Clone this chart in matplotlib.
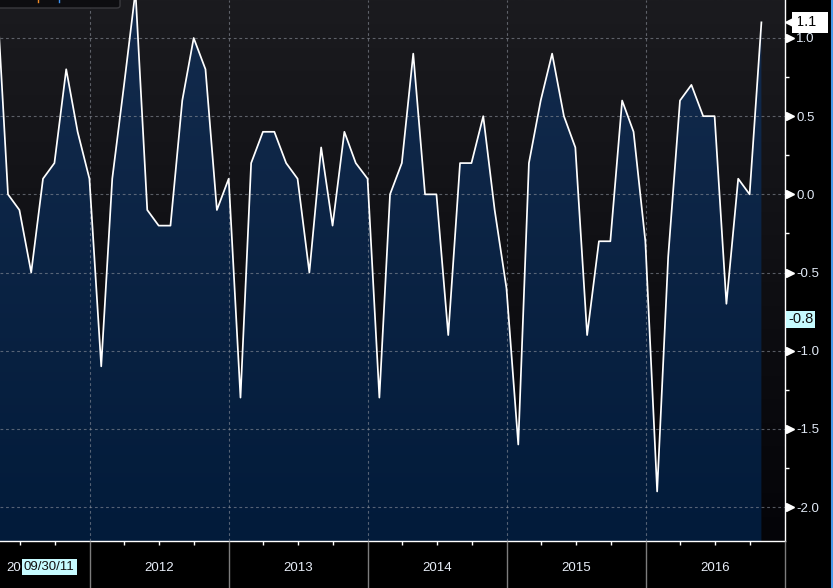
import matplotlib
matplotlib.use('Agg')
import matplotlib.pyplot as plt
import matplotlib.dates as mdates
import matplotlib.transforms as mtransforms
from matplotlib.patches import FancyBboxPatch
from matplotlib.lines import Line2D
import numpy as np
import pandas as pd

plt.rcParams['font.family'] = ['Liberation Sans', 'DejaVu Sans']

# monthly values, Apr 2011 .. Oct 2016 (month end)
dates = pd.date_range('2011-04-30', '2016-10-31', freq='ME')
values = [1.35, 0.0, -0.1, -0.5, 0.1, 0.2, 0.8, 0.4, 0.1,
          -1.1, 0.1, 0.7, 1.3, -0.1, -0.2, -0.2, 0.6, 1.0, 0.8, -0.1, 0.1,
          -1.3, 0.2, 0.4, 0.4, 0.2, 0.1, -0.5, 0.3, -0.2, 0.4, 0.2, 0.1,
          -1.3, 0.0, 0.2, 0.9, 0.0, 0.0, -0.9, 0.2, 0.2, 0.5, -0.1, -0.6,
          -1.6, 0.2, 0.6, 0.9, 0.5, 0.3, -0.9, -0.3, -0.3, 0.6, 0.4, -0.3,
          -1.9, -0.4, 0.6, 0.7, 0.5, 0.5, -0.7, 0.1, 0.0, 1.1]
years = [2012, 2013, 2014, 2015, 2016]
yticks = [-2.0, -1.5, -1.0, -0.5, 0.0, 0.5, 1.0]
yminor = [-1.75, -1.25, -0.75, -0.25, 0.25, 0.75]
last_value = 1.1
cursor_value = -0.8
cursor_date = '09/30/11'

ymin, ymax = -2.217, 1.243
x = mdates.date2num(dates)
x0 = mdates.date2num(pd.Timestamp('2011-05-10'))
x1 = mdates.date2num(pd.Timestamp('2017-01-01'))

fig = plt.figure(figsize=(8.33, 5.88), dpi=100, facecolor='black')
ax = fig.add_axes([0, 47 / 588, 785 / 833, 541 / 588])
ax.set_facecolor('black')


def vgrad(top, bottom, n=256):
    t = np.linspace(0, 1, n)[:, None]
    top = np.array(matplotlib.colors.to_rgb(top))
    bottom = np.array(matplotlib.colors.to_rgb(bottom))
    return (top * (1 - t) + bottom * t).reshape(n, 1, 3)


# plot background
ax.imshow(vgrad('#1b1b1f', '#040408'), extent=[x0, x1, ymin, ymax],
          aspect='auto', zorder=-2, interpolation='bilinear')

# gradient area under the line
poly = ax.fill_between(x, values, ymin, facecolor='none', lw=0)
im = ax.imshow(vgrad('#132b4d', '#021b3a'), extent=[x0, x1, ymin, ymax],
               aspect='auto', zorder=1, interpolation='bilinear')
im.set_clip_path(poly.get_paths()[0], transform=ax.transData)

ax.plot(x, values, color='white', lw=1.25, zorder=3)

ax.set_xlim(x0, x1)
ax.set_ylim(ymin, ymax)

# grid
ax.set_axisbelow(False)
ax.grid(True, which='major', color='#8d929c', ls=(0, (2.5, 2.5)), lw=0.8, alpha=0.6)

# spines
for s in ['left', 'top']:
    ax.spines[s].set_visible(False)
for s in ['right', 'bottom']:
    ax.spines[s].set_color('white')
    ax.spines[s].set_linewidth(1.0)

# x axis
ax.xaxis.set_major_locator(mdates.YearLocator())
ax.xaxis.set_minor_locator(mdates.MonthLocator(bymonth=[1, 4, 7, 10]))
ax.xaxis.set_major_formatter(plt.NullFormatter())
ax.tick_params(axis='x', which='major', color='#7d7d7d', length=34, width=1, direction='out')
ax.tick_params(axis='x', which='minor', color='white', length=3, width=1, direction='out')
bx = mtransforms.blended_transform_factory(ax.transData, ax.transAxes)
for yr in years:
    ax.text(mdates.date2num(pd.Timestamp(f'{yr}-07-01')), -27 / 541, str(yr),
            transform=bx, ha='center', va='center', color='#e8eef8',
            fontsize=9.5, clip_on=False)
# 2011 label is mostly hidden behind the cursor date tag
fig.text(6 / 833, (588 - 568) / 588, '20', ha='left', va='center',
         color='#e8eef8', fontsize=9.5)
fig.text(24 / 833, (588 - 567) / 588, cursor_date, ha='left', va='center',
         color='#111111', fontsize=9.5,
         bbox=dict(boxstyle='square,pad=0.18', fc='#c6fbff', ec='none'))

# y axis on the right
ax.yaxis.tick_right()
ax.set_yticks(yticks)
ax.set_yticklabels([f'{v:.1f}' for v in yticks])
ax.set_yticks(yminor, minor=True)
ax.tick_params(axis='y', which='major', length=0, pad=8, labelcolor='#e2eaf6', labelsize=9.5)
ax.tick_params(axis='y', which='minor', color='white', length=3, width=1, direction='out')
by = mtransforms.blended_transform_factory(ax.transAxes, ax.transData)
tri = by + mtransforms.ScaledTranslation(5 / 100, 0, fig.dpi_scale_trans)
ax.plot([1.0] * len(yticks), yticks, ls='none', marker='>', ms=6, color='white',
        transform=tri, clip_on=False, zorder=5)

# value tags
tag = by + mtransforms.ScaledTranslation(11 / 100, 0, fig.dpi_scale_trans)
ax.text(1.0, last_value, f'{last_value:.1f}  ', transform=tag, ha='left', va='center',
        color='black', fontsize=10.5, clip_on=False,
        bbox=dict(boxstyle='square,pad=0.25', fc='white', ec='none'))
arr = by + mtransforms.ScaledTranslation(6 / 100, 0, fig.dpi_scale_trans)
ax.plot([1.0], [last_value], ls='none', marker='<', ms=9, color='white',
        transform=arr, clip_on=False, zorder=5)
tag2 = by + mtransforms.ScaledTranslation(3 / 100, 0, fig.dpi_scale_trans)
ax.text(1.0, cursor_value, f'{cursor_value:.1f}', transform=tag2, ha='left', va='center',
        color='#111111', fontsize=10.5, clip_on=False,
        bbox=dict(boxstyle='square,pad=0.12', fc='#c6fbff', ec='none'))

# legend box remnant at top left
fig.add_artist(FancyBboxPatch((-10 / 833, 580 / 588), 130 / 833, 20 / 588,
                              boxstyle='round,pad=0,rounding_size=0.004',
                              transform=fig.transFigure, fc='#0d0d10', ec='#3a3a3e', lw=1))
fig.add_artist(Line2D([38 / 833] * 2, [586 / 588, 1], color='#f08a24', lw=1,
                      transform=fig.transFigure))
fig.add_artist(Line2D([59 / 833] * 2, [586 / 588, 1], color='#3a8ff0', lw=1,
                      transform=fig.transFigure))

# right border
fig.add_artist(Line2D([831.8 / 833] * 2, [0, 1], color='#4b9be8', lw=1.5,
                      transform=fig.transFigure))

fig.savefig('out.png', dpi=100, facecolor='black')
